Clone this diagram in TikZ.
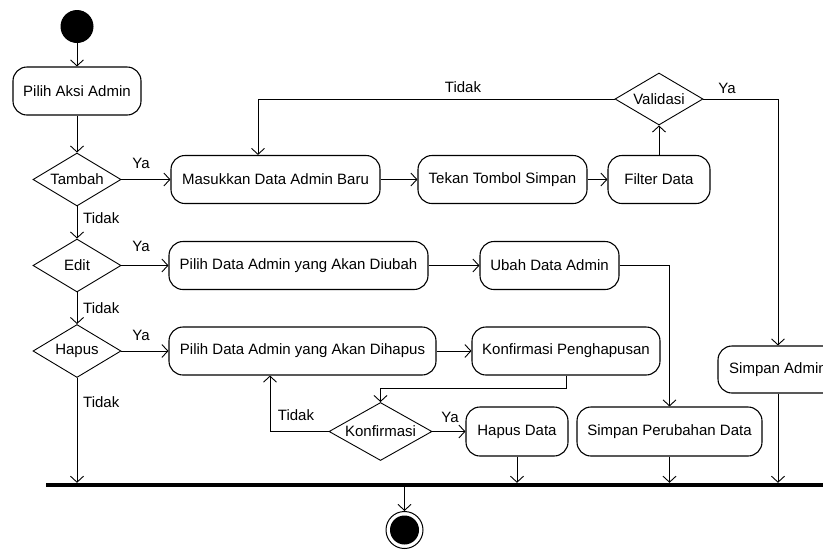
\documentclass[tikz,border=0pt]{standalone}
\usepackage{fontspec}
\setmainfont{Liberation Sans}
\usetikzlibrary{shapes.geometric,arrows.meta}
\begin{document}
\begin{tikzpicture}[x=1pt,y=-1pt,
  every node/.style={font=\fontsize{15}{18}\selectfont},
  act/.style={draw,line width=1.1pt,rounded corners=14pt,minimum height=48pt,inner sep=0pt},
  dec/.style={draw,diamond,line width=0.9pt,inner sep=0pt,minimum width=88pt,minimum height=53pt},
  arr/.style={line width=0.9pt,-{Straight Barb[length=6pt,width=13pt]}},
  lbl/.style={inner sep=0pt}]
\useasboundingbox (0,0) rectangle (823,550);
\clip (0,0) rectangle (823,550);
% nodes
\node[circle,fill=black,minimum size=33pt,inner sep=0pt] (start) at (77,26.5) {};
\node[act,minimum width=128pt] (aksi) at (77,91) {Pilih Aksi Admin};
\node[dec,label=center:{Tambah}] (tambah) at (77,179.5) {};
\node[dec,label=center:{Edit}] (edit) at (77,265.5) {};
\node[dec,label=center:{Hapus}] (hapus) at (77,351) {};
\node[act,minimum width=209pt] (masuk) at (275.5,179.5) {Masukkan Data Admin Baru};
\node[act,minimum width=169pt] (tekan) at (502.5,179.5) {Tekan Tombol Simpan};
\node[act,minimum width=102pt] (filter) at (659,179.5) {Filter Data};
\node[dec,minimum height=52pt,label=center:{Validasi}] (validasi) at (659,99) {};
\node[act,minimum width=120pt,minimum height=47pt] (simpanadmin) at (778,369.5) {Simpan Admin};
\node[act,minimum width=259pt] (pilihubah) at (298.5,265.5) {Pilih Data Admin yang Akan Diubah};
\node[act,minimum width=139pt] (ubah) at (549.5,265.5) {Ubah Data Admin};
\node[act,minimum width=185pt,minimum height=49pt] (simpanubah) at (669.5,431.5) {Simpan Perubahan Data};
\node[act,minimum width=267pt] (pilihhapus) at (302.5,351) {Pilih Data Admin yang Akan Dihapus};
\node[act,minimum width=188pt] (konfpeng) at (566,351) {Konfirmasi Penghapusan};
\node[dec,minimum width=103pt,minimum height=58pt,label=center:{Konfirmasi}] (konfirmasi) at (380.5,431.5) {};
\node[act,minimum width=102pt,minimum height=49pt] (hapusdata) at (517,431.5) {Hapus Data};
\node[fill=black,minimum width=777pt,minimum height=4pt,inner sep=0pt] (bar) at (434.5,485) {};
\node[circle,draw,line width=1pt,minimum size=37pt,inner sep=0pt] (end) at (404.5,530) {};
\fill (end.center) circle (14.5);
% connectors
\draw[arr] (start) -- (aksi);
\draw[arr] (aksi) -- (tambah);
\draw[arr] (tambah.east) -- (masuk.west);
\draw[arr] (tambah.south) -- (edit.north);
\draw[arr] (edit.east) -- (pilihubah.west);
\draw[arr] (edit.south) -- (hapus.north);
\draw[arr] (hapus.east) -- (pilihhapus.west);
\draw[arr] (hapus.south) -- (hapus.south |- bar.north);
\draw[arr] (masuk) -- (tekan);
\draw[arr] (tekan) -- (filter);
\draw[arr] (filter.north) -- (validasi.south);
\draw[arr] (validasi.west) -| ([xshift=-17.5pt]masuk.north);
\draw[arr] (validasi.east) -| (simpanadmin.north);
\draw[arr] (simpanadmin.south) -- (simpanadmin.south |- bar.north);
\draw[arr] (pilihubah) -- (ubah);
\draw[arr] (ubah.east) -| (simpanubah.north);
\draw[arr] (simpanubah.south) -- (simpanubah.south |- bar.north);
\draw[arr] (pilihhapus) -- (konfpeng);
\draw[arr] (konfpeng.south) -- ++(0,13) -| (konfirmasi.north);
\draw[arr] (konfirmasi.east) -- (hapusdata.west);
\draw[arr] (konfirmasi.west) -| ([xshift=-32.5pt]pilihhapus.south);
\draw[arr] (hapusdata.south) -- (hapusdata.south |- bar.north);
\draw[arr] (end.north |- bar.south) -- (end.north);
% labels
\node[lbl] (ya1) at (141,163) {Ya};
\node[lbl] (ya2) at (141,246) {Ya};
\node[lbl] (ya3) at (141,335) {Ya};
\node[lbl,anchor=west] (t1) at (83,218) {Tidak};
\node[lbl,anchor=west] (t2) at (83,308) {Tidak};
\node[lbl,anchor=west] (t3) at (83,402) {Tidak};
\node[lbl] (t4) at (463,87) {Tidak};
\node[lbl] (ya4) at (727,88) {Ya};
\node[lbl] (ya5) at (450,417) {Ya};
\node[lbl] (t5) at (296,415) {Tidak};
\end{tikzpicture}
\end{document}
